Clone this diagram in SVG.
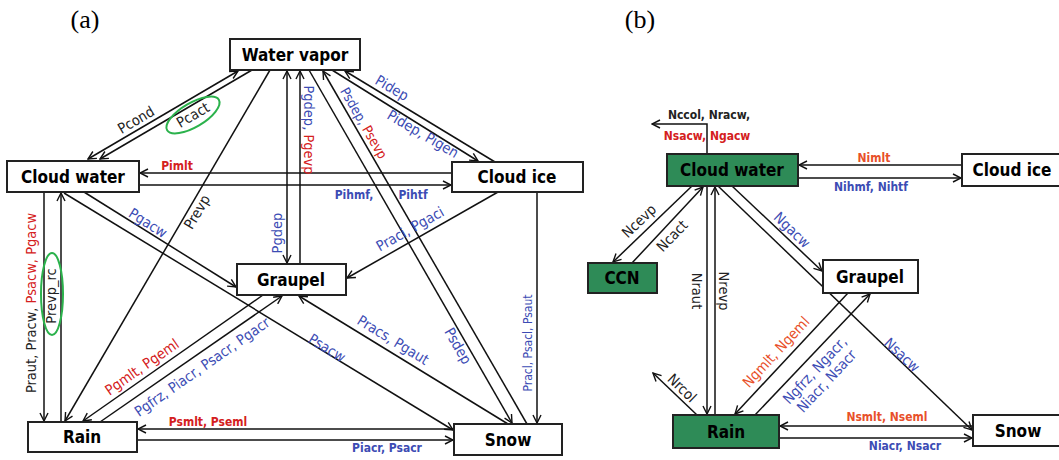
<svg xmlns="http://www.w3.org/2000/svg" width="1059" height="460" viewBox="0 0 1059 460">
<defs>
<marker id="ah" viewBox="0 0 10 10" refX="9" refY="5" markerWidth="10" markerHeight="10" markerUnits="userSpaceOnUse" orient="auto-start-reverse">
<path d="M1,1 L9,5 L1,9" fill="none" stroke="#111" stroke-width="1.4"/>
</marker>
<style>
.box{fill:#fff;stroke:#222;stroke-width:2}
.gbox{fill:#2e8b57;stroke:#222;stroke-width:2}
.nt{font-family:"DejaVu Sans Condensed","DejaVu Sans",sans-serif;font-weight:bold;font-size:17px;fill:#000;text-anchor:middle;dominant-baseline:central}
.e{fill:none;stroke:#111;stroke-width:1.5;marker-end:url(#ah)}
.e2{fill:none;stroke:#111;stroke-width:1.5;marker-end:url(#ah);marker-start:url(#ah)}
.l{font-family:"DejaVu Sans Condensed","DejaVu Sans",sans-serif;font-size:14.5px;text-anchor:middle;dominant-baseline:central}
.k{fill:#222}
.r{fill:#d42020}
.o{fill:#e8502a}
.b{fill:#3c4cb4}
.bd{font-weight:bold;font-size:12px}
.sm{font-size:12px}
.ring{fill:none;stroke:#2bb24c;stroke-width:2}
.pl{font-family:"Liberation Serif",serif;font-size:26px;fill:#000;text-anchor:middle}
</style>
</defs>
<text class="pl" x="85" y="28">(a)</text>
<text class="pl" x="640" y="28">(b)</text>

<g id="connectors">
<path class="e2" d="M88,159 L238,71"/>
<path class="e" d="M252,70 L100,159"/>
<path class="e" d="M270,70 L65,421"/>
<path class="e" d="M44,192 L44,421"/>
<path class="e" d="M61,422 L61,193"/>
<path class="e" d="M452,173 L140,173"/>
<path class="e" d="M139,185 L451,185"/>
<path class="e2" d="M287,71 L287,263"/>
<path class="e" d="M300,264 L300,71"/>
<path class="e" d="M309,70 L512,423"/>
<path class="e" d="M527,424 L323,71"/>
<path class="e" d="M495,162 L345,71"/>
<path class="e" d="M332,70 L478,161"/>
<path class="e" d="M84,192 L236,287"/>
<path class="e" d="M64,193 L453,430"/>
<path class="e" d="M498,192 L347,278"/>
<path class="e" d="M263,295 L83,421"/>
<path class="e" d="M100,422 L282,296"/>
<path class="e" d="M508,424 L299,296"/>
<path class="e" d="M454,429 L138,429"/>
<path class="e" d="M137,440 L453,440"/>
<path class="e" d="M537,192 L537,423"/>
<path class="e" d="M707,154 V124 H652"/>
<path class="e" d="M692,186 L613,262"/>
<path class="e" d="M632,263 L703,187"/>
<path class="e" d="M707,186 L707,414"/>
<path class="e" d="M715,415 L715,187"/>
<path class="e" d="M697,415 L653,373"/>
<path class="e" d="M848,293 L735,414"/>
<path class="e" d="M755,415 L870,294"/>
<path class="e" d="M732,186 L822,271"/>
<path class="e" d="M718,186 L972,430"/>
<path class="e" d="M973,426 L780,426"/>
<path class="e" d="M779,438 L972,438"/>
<path class="e" d="M962,165 L799,165"/>
<path class="e" d="M798,178 L961,178"/>
</g>

<g id="labels">
<text class="l k" transform="translate(136,120) rotate(-30.5)">Pcond</text>
<text class="l k" transform="translate(193,115) rotate(-30.5)">Pcact</text>
<ellipse class="ring" cx="193" cy="115" rx="30" ry="12" transform="rotate(-30.5 193 115)"/>
<text class="l k" transform="translate(197,212) rotate(-59.6)">Prevp</text>
<text class="l" transform="translate(31,303) rotate(-90)"><tspan class="k">Praut, Pracw, </tspan><tspan class="r">Psacw, Pgacw</tspan></text>
<text class="l k" transform="translate(51,296) rotate(-90)">Prevp_rc</text>
<ellipse class="ring" cx="52" cy="294" rx="11" ry="41"/>
<text class="l r bd" x="177" y="166">Pimlt</text>
<text class="l b bd" x="354" y="195">Pihmf,</text>
<text class="l b bd" x="413" y="195">Pihtf</text>
<text class="l" transform="translate(309,130) rotate(90)"><tspan class="b">Pgdep, </tspan><tspan class="r">Pgevp</tspan></text>
<text class="l b" transform="translate(277,233) rotate(-90)">Pgdep</text>
<text class="l" style="font-size:13.5px" transform="translate(364,123) rotate(60)"><tspan class="b">Psdep, </tspan><tspan class="r">Psevp</tspan></text>
<text class="l b" transform="translate(458,346) rotate(60)">Psdep</text>
<text class="l b" transform="translate(392,88) rotate(30.4)">Pidep</text>
<text class="l b" transform="translate(423,134) rotate(30.4)">Pidep, Pigen</text>
<text class="l b" transform="translate(148,223) rotate(32)">Pgacw</text>
<text class="l b" transform="translate(410,229) rotate(-29.4)">Praci, Pgaci</text>
<text class="l r" transform="translate(142,367) rotate(-35)">Pgmlt, Pgeml</text>
<text class="l b" transform="translate(202,367) rotate(-35)">Pgfrz, Piacr, Psacr, Pgacr</text>
<text class="l b" transform="translate(393,340) rotate(31.5)">Pracs, Pgaut</text>
<text class="l b" transform="translate(327,348) rotate(31.6)">Psacw</text>
<text class="l r bd" x="208" y="422">Psmlt, Pseml</text>
<text class="l b bd" x="387" y="448">Piacr, Psacr</text>
<text class="l b sm" transform="translate(528,343) rotate(-90)">Pracl, Psacl, Psaut</text>

<text class="l k bd" x="709" y="115">Nccol, Nracw,</text>
<text class="l r bd" x="707" y="136">Nsacw, Ngacw</text>
<text class="l o bd" x="874" y="158">Nimlt</text>
<text class="l b bd" x="871" y="187">Nihmf, Nihtf</text>
<text class="l k" transform="translate(639,221) rotate(-44)">Ncevp</text>
<text class="l k" transform="translate(672,236) rotate(-46)">Ncact</text>
<text class="l k" transform="translate(697,291) rotate(90)">Nraut</text>
<text class="l k" transform="translate(724,291) rotate(90)">Nrevp</text>
<text class="l b" transform="translate(792,230) rotate(44)">Ngacw</text>
<text class="l k" transform="translate(682,388) rotate(44)">Nrcol</text>
<text class="l o" transform="translate(776,352) rotate(-47)">Ngmlt, Ngeml</text>
<g transform="translate(820,375) rotate(-47)">
<text class="l b" x="0" y="-7">Ngfrz, Ngacr,</text>
<text class="l b" x="0" y="9">Niacr, Nsacr</text>
</g>
<text class="l b" transform="translate(902,355) rotate(43)">Nsacw</text>
<text class="l o bd" x="887" y="417">Nsmlt, Nseml</text>
<text class="l b bd" x="905" y="446">Niacr, Nsacr</text>
</g>

<g id="node-water-vapor"><rect class="box" x="230" y="39" width="130" height="31"/><text class="nt" x="295" y="55">Water vapor</text></g>
<g id="node-cloud-water-a"><rect class="box" x="7" y="161" width="132" height="31"/><text class="nt" x="73" y="177">Cloud water</text></g>
<g id="node-cloud-ice-a"><rect class="box" x="452" y="162" width="131" height="30"/><text class="nt" x="517" y="177">Cloud ice</text></g>
<g id="node-graupel-a"><rect class="box" x="237" y="264" width="109" height="31"/><text class="nt" x="291" y="280">Graupel</text></g>
<g id="node-rain-a"><rect class="box" x="28" y="422" width="109" height="30"/><text class="nt" x="82" y="437">Rain</text></g>
<g id="node-snow-a"><rect class="box" x="454" y="424" width="108" height="31"/><text class="nt" x="508" y="440">Snow</text></g>

<g id="node-cloud-water-b"><rect class="gbox" x="667" y="154" width="131" height="32"/><text class="nt" x="732" y="170">Cloud water</text></g>
<g id="node-cloud-ice-b"><rect class="box" x="962" y="154" width="100" height="32"/><text class="nt" x="1012" y="170">Cloud ice</text></g>
<g id="node-ccn"><rect class="gbox" x="588" y="263" width="69" height="30"/><text class="nt" x="622" y="278">CCN</text></g>
<g id="node-graupel-b"><rect class="box" x="823" y="260" width="95" height="33"/><text class="nt" x="870" y="277">Graupel</text></g>
<g id="node-rain-b"><rect class="gbox" x="673" y="415" width="106" height="33"/><text class="nt" x="726" y="432">Rain</text></g>
<g id="node-snow-b"><rect class="box" x="973" y="415" width="90" height="31"/><text class="nt" x="1018" y="431">Snow</text></g>
</svg>
